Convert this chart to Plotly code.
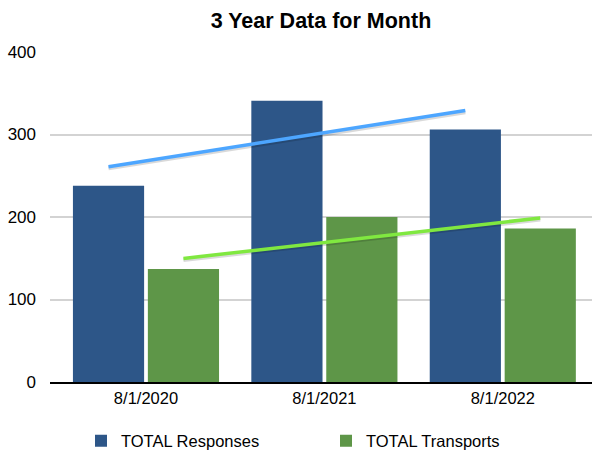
import numpy as np
import plotly.graph_objects as go

categories = ["8/1/2020", "8/1/2021", "8/1/2022"]
responses = [238, 341, 306]
transports = [137, 200, 186]
y_ticks = [0, 100, 200, 300, 400]

blue = "#2D5688"
green = "#5E9648"
blue_trend = "#4DA6FF"
green_trend = "#80E840"

xpos = np.arange(len(categories))
off = 0.21  # half-slot offset for grouped bars (bargap 0.16)

def trend(vals):
    m, b = np.polyfit(xpos, vals, 1)
    return m * xpos + b

fig = go.Figure()
fig.add_trace(go.Bar(x=xpos, y=responses, name="TOTAL Responses", marker_color=blue, marker_line_width=0))
fig.add_trace(go.Bar(x=xpos, y=transports, name="TOTAL Transports", marker_color=green, marker_line_width=0))

tr_r = trend(responses)
tr_t = trend(transports)
# faint shadows
fig.add_trace(go.Scatter(x=[xpos[0] - off, xpos[-1] - off], y=[tr_r[0] - 2, tr_r[-1] - 2], mode="lines",
                         line=dict(color="rgba(0,0,0,0.15)", width=4), showlegend=False, hoverinfo="skip"))
fig.add_trace(go.Scatter(x=[xpos[0] + off, xpos[-1] + off], y=[tr_t[0] - 2, tr_t[-1] - 2], mode="lines",
                         line=dict(color="rgba(0,0,0,0.15)", width=4), showlegend=False, hoverinfo="skip"))
fig.add_trace(go.Scatter(x=[xpos[0] - off, xpos[-1] - off], y=[tr_r[0], tr_r[-1]], mode="lines",
                         line=dict(color=blue_trend, width=3.5), showlegend=False))
fig.add_trace(go.Scatter(x=[xpos[0] + off, xpos[-1] + off], y=[tr_t[0], tr_t[-1]], mode="lines",
                         line=dict(color=green_trend, width=3.5), showlegend=False))

fig.update_layout(
    width=592, height=452,
    margin=dict(l=50, r=0, t=52, b=70, autoexpand=False),
    paper_bgcolor="white", plot_bgcolor="white",
    font=dict(family="Liberation Sans, Arial, sans-serif", color="black"),
    title=dict(text="<b>3 Year Data for Month</b>", x=0.5, xref="paper", xanchor="center",
               y=1 - 20 / 452, yref="container", yanchor="middle", font=dict(size=21.5)),
    barmode="group", bargap=0.16, bargroupgap=0.05,
    showlegend=True,
    legend=dict(orientation="h", x=0.5 + 30 / 592, xref="container", xanchor="center",
                y=1 - 441 / 452, yref="container", yanchor="middle",
                font=dict(size=16.5), traceorder="normal", entrywidth=200),
    xaxis=dict(tickmode="array", tickvals=list(xpos), ticktext=categories, range=[-0.538, 2.5],
               showgrid=False, zeroline=False, showline=True, linecolor="black", linewidth=1.5,
               ticks="", tickfont=dict(size=16.5)),
    yaxis=dict(range=[0, 400], tickvals=y_ticks, showgrid=True, gridcolor="#D3D3D3", gridwidth=1.5,
               zeroline=False, tickfont=dict(size=17), ticks="", ticklabelstandoff=13, fixedrange=True),
)
fig.write_html("out.html", config={"displayModeBar": False},
               post_script="document.body.style.margin='0';document.body.style.overflow='hidden';")
